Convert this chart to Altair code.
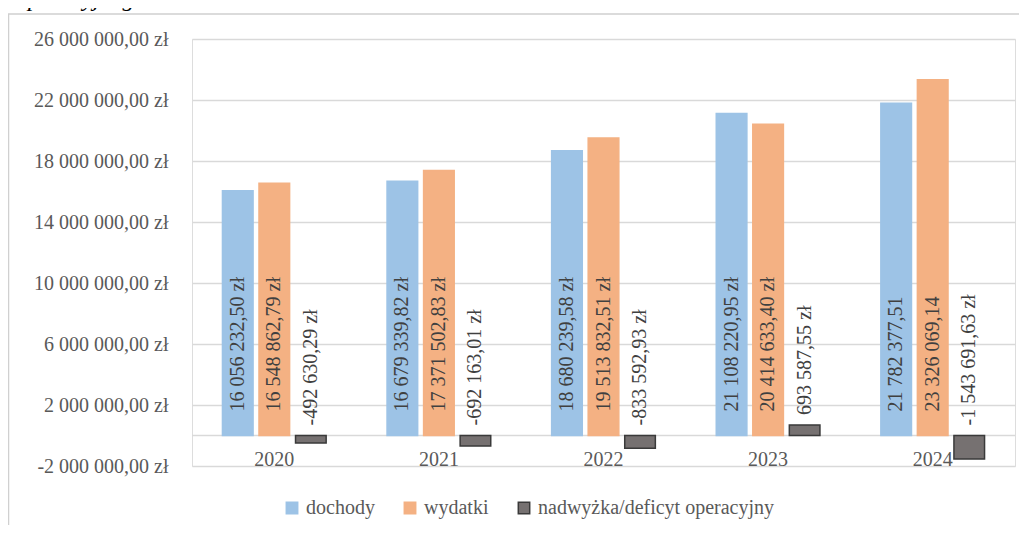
import altair as alt
import pandas as pd

# ---- data ----
years = ["2020", "2021", "2022", "2023", "2024"]
series = ["dochody", "wydatki", "nadwyżka/deficyt operacyjny"]
dochody = [16056232.50, 16679339.82, 18680239.58, 21108220.95, 21782377.51]
wydatki = [16548862.79, 17371502.83, 19513832.51, 20414633.40, 23326069.14]
nadwyzka = [-492630.29, -692163.01, -833592.93, 693587.55, -1543691.63]
# data labels: whether the " zł" suffix is printed (2024 income/expense labels lack it)
suffix_dochody = [True, True, True, True, False]
suffix_wydatki = [True, True, True, True, False]
suffix_nadwyzka = [True, True, True, True, True]
y_ticks = [-2000000, 2000000, 6000000, 10000000, 14000000, 18000000, 22000000, 26000000]

fill_colors = ["#9DC3E6", "#F4B183", "#767171"]
stroke_colors = ["#9DC3E6", "#F4B183", "#3A3A3A"]


def pl_format(v, suffix):
    s = f"{abs(v):,.2f}".replace(",", " ").replace(".", ",")
    if v < 0:
        s = "-" + s
    return s + (" zł" if suffix else "")


rows = []
for name, vals, sufs in [
    (series[0], dochody, suffix_dochody),
    (series[1], wydatki, suffix_wydatki),
    (series[2], nadwyzka, suffix_nadwyzka),
]:
    for yr, v, s in zip(years, vals, sufs):
        rows.append({"year": yr, "series": name, "value": v, "label": pl_format(v, s)})
df = pd.DataFrame(rows)

FONT = "Liberation Serif"
FS = 20
W, H = 823, 427

x_enc = alt.X(
    "year:N",
    sort=years,
    scale=alt.Scale(paddingInner=0.37, paddingOuter=0.185),
    axis=alt.Axis(
        title=None, labelAngle=0, domain=False, ticks=False, grid=False,
        labelFontSize=FS, labelFont=FONT, labelColor="#595959",
        labelPadding=14, offset=-30.5,
    ),
)
xoff_enc = alt.XOffset("series:N", sort=series, scale=alt.Scale(paddingInner=0.162))
y_scale = alt.Scale(domain=[-2000000, 26000000], nice=False, zero=False)

legend = alt.Legend(
    title=None, orient="none", direction="horizontal",
    legendX=90, legendY=459, padding=0,
    symbolType="square", symbolSize=130, symbolStrokeWidth=1.5,
    labelFont=FONT, labelFontSize=FS, labelColor="#595959", labelLimit=0,
    labelOffset=4, columnPadding=25,
)

base = alt.Chart(df)

bars = base.mark_bar(strokeWidth=1.5).encode(
    x=x_enc,
    xOffset=xoff_enc,
    y=alt.Y(
        "value:Q",
        scale=y_scale,
        axis=alt.Axis(
            title=None, values=y_ticks, format="$,.2f", domain=False, ticks=False,
            grid=True, gridColor="#d9d9d9", gridWidth=1.5,
            labelFontSize=FS, labelFont=FONT, labelColor="#595959", labelPadding=24,
        ),
    ),
    fill=alt.Fill(
        "series:N", sort=series,
        scale=alt.Scale(domain=series, range=fill_colors),
        legend=legend,
    ),
    stroke=alt.Stroke(
        "series:N", sort=series,
        scale=alt.Scale(domain=series, range=stroke_colors),
        legend=legend,
    ),
)

zero_line = alt.Chart(pd.DataFrame({"z": [0]})).mark_rule(
    color="#d9d9d9", strokeWidth=1.5
).encode(y=alt.Y("z:Q", scale=y_scale))

labels_main = base.transform_filter(
    alt.datum.series != series[2]
).transform_calculate(zero="0").mark_text(
    angle=270, align="left", baseline="middle", dx=24,
    font=FONT, fontSize=FS, color="#404040",
).encode(
    x=x_enc, xOffset=xoff_enc,
    y=alt.Y("zero:Q", scale=y_scale),
    text="label:N",
)

labels_net = base.transform_filter(
    alt.datum.series == series[2]
).transform_calculate(
    anchor="max(datum.value, 0)"
).mark_text(
    angle=270, align="left", baseline="middle", dx=10,
    font=FONT, fontSize=FS, color="#404040",
).encode(
    x=x_enc, xOffset=xoff_enc,
    y=alt.Y("anchor:Q", scale=y_scale),
    text="label:N",
)

dummy = pd.DataFrame({"a": [0]})
frame = alt.Chart(dummy).mark_rect(
    fillOpacity=0, stroke="#d0d0d0", strokeWidth=1.5
).encode(
    x=alt.value(-183.5), x2=alt.value(W + 60),
    y=alt.value(-25), y2=alt.value(H + 120),
)

caption = alt.Chart(dummy).mark_text(
    text="a operacyjnego.", font=FONT, fontStyle="italic", fontSize=24,
    align="left", baseline="alphabetic", color="#000000",
).encode(x=alt.value(-194), y=alt.value(-33))

chart = alt.layer(
    frame, caption, zero_line, bars, labels_main, labels_net
).properties(
    width=W, height=H,
    autosize=alt.AutoSizeParams(type="none"),
    padding={"left": 184, "top": 31, "right": 4, "bottom": 59},
).configure_view(stroke=None).configure(
    font=FONT,
    locale={
        "number": {
            "decimal": ",", "thousands": " ", "grouping": [3],
            "currency": ["", " zł"], "minus": "-",
        }
    },
).configure_legend(
    labelFont=FONT, labelFontSize=FS, labelLimit=0
).configure_text(font=FONT)

chart.save("out.html", embed_options={"renderer": "svg", "actions": False})
